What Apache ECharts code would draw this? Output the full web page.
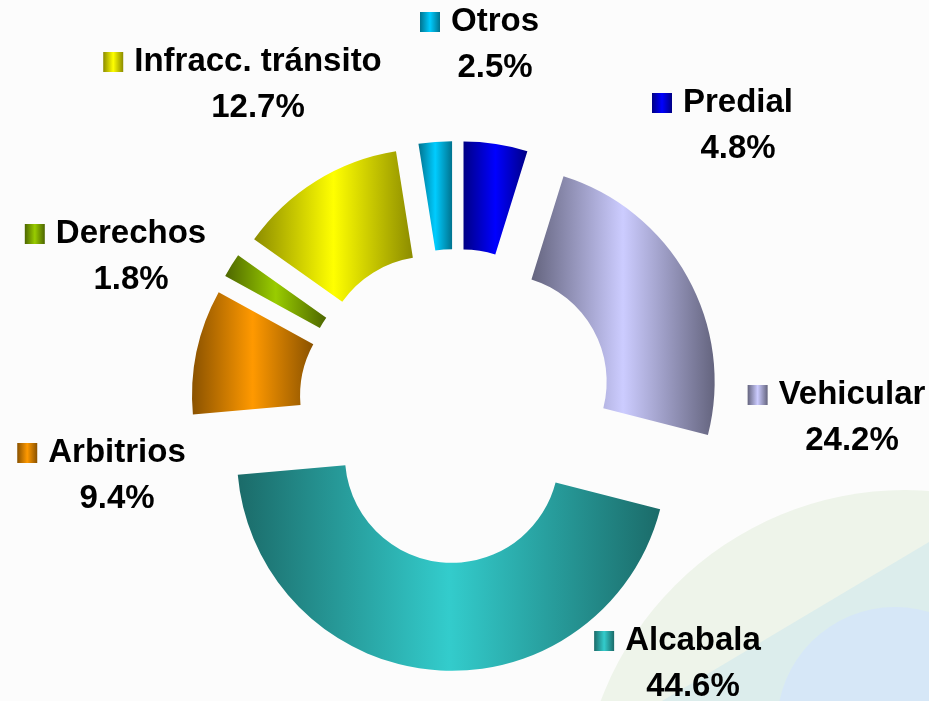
<!DOCTYPE html>
<html>
<head>
<meta charset="utf-8">
<script src="https://cdn.jsdelivr.net/npm/echarts@6/dist/echarts.min.js"></script>
<style>
html,body{margin:0;padding:0;background:#ffffff;}
#c{width:949px;height:701px;}
</style>
</head>
<body>
<div id="c"></div>
<script>
// ---- data ----
const categories = ['Predial', 'Vehicular', 'Alcabala', 'Arbitrios', 'Derechos', 'Infracc. tránsito', 'Otros'];
const shares = [4.8, 24.2, 44.6, 9.4, 1.8, 12.7, 2.5];

// ---- styles ----
const lightColors = ['#0000FF', '#CCCCFF', '#33CCCC', '#FF9900', '#99CC00', '#FFFF00', '#00CCFF'];
const darkColors  = ['#000085', '#64647E', '#1B6B69', '#8A5200', '#4D6600', '#8C8C00', '#00738F'];

// ---- label layout (manual placement as in the original) ----
const labelX = [738, 852, 693, 117, 131, 258, 495];
const labelY = [126, 418, 664, 476, 257, 85, 45];

function grad(i) {
  return {
    type: 'linear', x: 0, y: 0, x2: 1, y2: 0,
    colorStops: [
      { offset: 0, color: darkColors[i] },
      { offset: 0.5, color: lightColors[i] },
      { offset: 1, color: darkColors[i] }
    ]
  };
}

const txt = { fontFamily: 'Liberation Sans, Arial, sans-serif', fontWeight: 'bold', fontSize: 33, color: '#000', lineHeight: 46 };

function richFor(i) {
  return {
    k: { width: 20, height: 20, backgroundColor: grad(i) },
    n: Object.assign({ padding: [0, 0, 0, 11] }, txt),
    s: { width: 31, height: 20 },
    p: Object.assign({}, txt)
  };
}

const chart = echarts.init(document.getElementById('c'), null, { renderer: 'canvas' });

chart.setOption({
  backgroundColor: '#FCFCFC',
  animation: false,
  graphic: [
    { type: 'circle', z: -9, silent: true, shape: { cx: 905, cy: 815, r: 325 }, style: { fill: '#EEF4EA' } },
    { type: 'polygon', z: -8, silent: true, shape: { points: [[662, 701], [929, 542], [929, 701]] }, style: { fill: '#DCEDEC' } },
    { type: 'circle', z: -7, silent: true, shape: { cx: 895, cy: 725, r: 118 }, style: { fill: '#D6E7F7' } },
    { type: 'rect', z: -6, silent: true, shape: { x: 929, y: 0, width: 20, height: 701 }, style: { fill: '#ffffff' } }
  ],
  series: [{
    // exploded doughnut
    type: 'pie',
    center: [456, 406],
    radius: [107, 215],
    startAngle: 90,
    clockwise: true,
    selectedMode: 'multiple',
    selectedOffset: 50,
    silent: true,
    emphasis: { disabled: true },
    label: { show: false },
    labelLine: { show: false },
    data: categories.map(function (name, i) {
      return { name: name, value: shares[i], selected: true, itemStyle: { color: grad(i) } };
    })
  }, {
    // labels (same data, invisible sectors)
    type: 'pie',
    center: [456, 406],
    radius: [107, 215],
    startAngle: 90,
    clockwise: true,
    silent: true,
    emphasis: { disabled: true },
    itemStyle: { color: 'rgba(0,0,0,0)' },
    avoidLabelOverlap: false,
    label: {
      show: true,
      position: 'outside',
      formatter: function (p) {
        return '{k|}{n|' + p.name + '}{s|}\n{p|' + p.value.toFixed(1) + '%}';
      }
    },
    labelLine: { show: false },
    labelLayout: function (p) {
      return { x: labelX[p.dataIndex], y: labelY[p.dataIndex], align: 'center', verticalAlign: 'middle' };
    },
    data: categories.map(function (name, i) {
      return { name: name, value: shares[i], label: { rich: richFor(i) } };
    })
  }]
});
</script>
</body>
</html>
